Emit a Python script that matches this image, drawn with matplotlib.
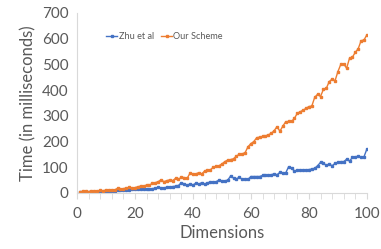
import matplotlib
matplotlib.use("Agg")
import matplotlib.pyplot as plt
import numpy as np

dims = list(range(1, 101))
zhu = [4,5,3,4,3,5,4,5,4,6,
       6,9,8,10,10,11,12,12,14,14,
       14,15,16,16,16,17,18,22,20,20,
       22,22,25,26,29,40,35,30,35,31,
       38,34,40,34,38,44,42,44,50,47,
       47,50,66,58,55,61,53,53,53,64,
       64,64,64,68,68,69,71,74,71,80,
       77,78,102,96,86,88,89,89,90,91,
       93,96,106,119,115,108,112,106,115,119,
       122,122,131,124,138,141,142,138,141,171]
ours = [5,6,8,5,7,6,8,10,9,11,
        11,13,12,18,16,17,19,22,18,21,
        24,27,26,31,30,38,40,44,51,44,
        48,51,48,57,53,61,60,57,77,74,
        74,79,74,85,88,90,100,104,106,113,
        122,128,130,133,144,150,152,157,180,192,
        200,215,217,220,222,226,232,242,258,240,
        260,277,278,278,290,310,316,322,329,336,
        338,372,384,375,403,407,433,443,436,472,
        500,502,485,524,528,547,561,592,595,615]
series_names = ["Zhu et al", "Our Scheme"]
xticks = [0, 20, 40, 60, 80, 100]
yticks = [0, 100, 200, 300, 400, 500, 600, 700]

plt.rcParams['font.family'] = ['Lato', 'DejaVu Sans']
fig = plt.figure(figsize=(3.81, 2.49), dpi=100)
ax = fig.add_axes([0.202, 0.225, 0.761, 0.723])

ax.plot(dims, zhu, color='#4472C4', lw=1.0, marker='s', ms=1.8, label=series_names[0])
ax.plot(dims, ours, color='#ED7D31', lw=1.0, marker='s', ms=1.8, label=series_names[1])

ax.set_xlim(0, 100)
ax.set_ylim(0, 700)
ax.set_xticks(xticks)
ax.set_xticks(np.arange(0, 101, 4), minor=True)
ax.set_yticks(yticks)
tc = '#595959'
ax.tick_params(axis='x', which='both', direction='out', length=4, color='#D9D9D9', labelsize=11, labelcolor=tc, pad=6)
ax.tick_params(axis='y', which='both', length=0, labelsize=11, labelcolor=tc, pad=6)
for s in ['top', 'right']:
    ax.spines[s].set_visible(False)
for s in ['left', 'bottom']:
    ax.spines[s].set_color('#D9D9D9')
    ax.spines[s].set_linewidth(0.8)

ax.set_xlabel("Dimensions", fontsize=12, color=tc, labelpad=3)
ax.set_ylabel("Time (in milliseconds)", fontsize=12, color=tc, labelpad=4)

leg = ax.legend(loc='center', bbox_to_anchor=(0.432, 0.853), ncol=2, frameon=False,
                fontsize=6.6, handlelength=1.2, handletextpad=0.15, columnspacing=0.8,
                bbox_transform=fig.transFigure)
for t in leg.get_texts():
    t.set_color(tc)

fig.savefig("out.png", dpi=100)
